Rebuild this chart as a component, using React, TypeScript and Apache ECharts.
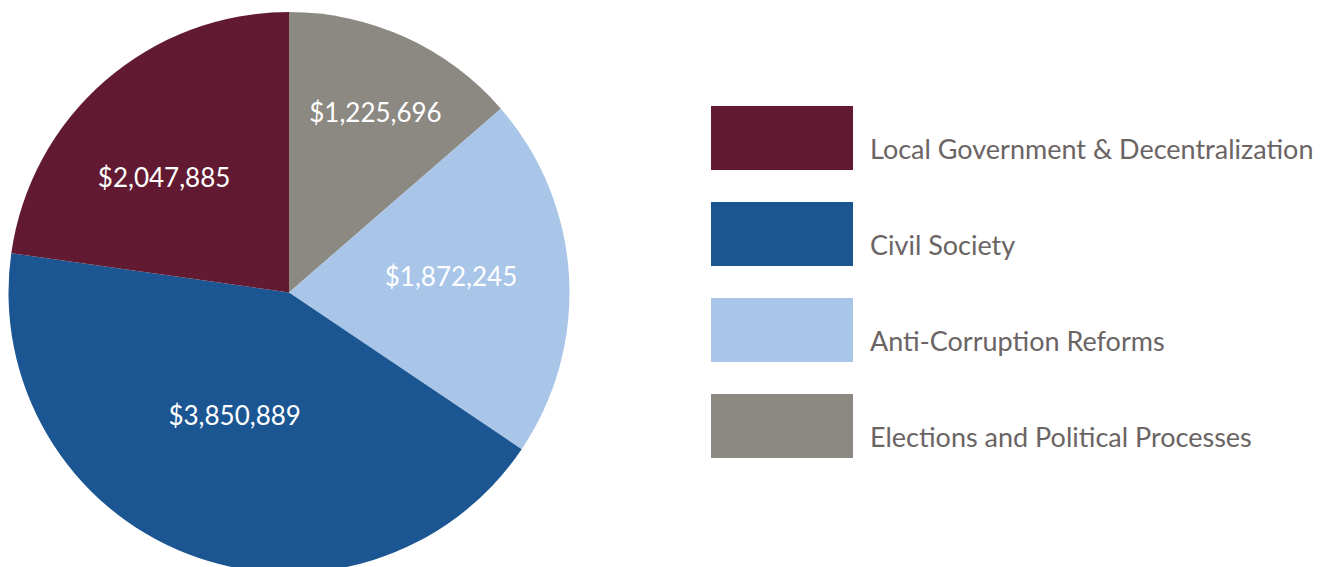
import React, { useEffect, useRef } from "react";
import * as echarts from "echarts";

const categories = [
  "Elections and Political Processes",
  "Anti-Corruption Reforms",
  "Civil Society",
  "Local Government & Decentralization",
];
const values = [1225696, 1872245, 3850889, 2047885];
const legendOrder = [
  "Local Government & Decentralization",
  "Civil Society",
  "Anti-Corruption Reforms",
  "Elections and Political Processes",
];

const colors: Record<string, string> = {
  "Elections and Political Processes": "#8C8983",
  "Anti-Corruption Reforms": "#A9C5E8",
  "Civil Society": "#1B5693",
  "Local Government & Decentralization": "#621A32",
};
const labelOffsets: Record<string, [number, number]> = {
  "Elections and Political Processes": [27, -50],
  "Anti-Corruption Reforms": [19, -8],
  "Civil Society": [-3, -11],
  "Local Government & Decentralization": [-31, -7],
};

const FONT = "Lato, 'Open Sans', sans-serif";

export default function App() {
  const ref = useRef<HTMLDivElement>(null);
  useEffect(() => {
    if (!ref.current) return;
    const chart = echarts.init(ref.current, undefined, { renderer: "svg" });
    chart.setOption({
      animation: false,
      backgroundColor: "#ffffff",
      legend: {
        orient: "vertical",
        left: 711,
        top: 106,
        padding: 0,
        itemWidth: 142,
        itemHeight: 64,
        itemGap: 32,
        icon: "rect",
        selectedMode: false,
        data: legendOrder,
        formatter: "{a|{name}}",
        textStyle: {
          fontFamily: FONT,
          fontSize: 27,
          color: "#6B6464",
          padding: [0, 0, 0, 12],
          rich: {
            a: {
              fontFamily: FONT,
              fontSize: 27,
              color: "#6B6464",
              padding: [20, 0, 0, 0],
            },
          },
        },
      },
      series: [
        {
          type: "pie",
          center: [289, 292.5],
          radius: 280.5,
          startAngle: 90,
          clockwise: true,
          avoidLabelOverlap: false,
          itemStyle: { borderWidth: 0 },
          label: {
            show: true,
            position: "inside",
            color: "#ffffff",
            fontFamily: FONT,
            fontSize: 26,
            formatter: (p: any) => "$" + Number(p.value).toLocaleString("en-US"),
          },
          labelLine: { show: false },
          emphasis: { disabled: true },
          data: categories.map((c, i) => ({
            name: c,
            value: values[i],
            itemStyle: { color: colors[c] },
            label: { offset: labelOffsets[c] },
          })),
        },
      ],
    });
    return () => chart.dispose();
  }, []);
  return (
    <div
      ref={ref}
      style={{ position: "fixed", left: 0, top: 0, width: 1338, height: 567 }}
    />
  );
}
